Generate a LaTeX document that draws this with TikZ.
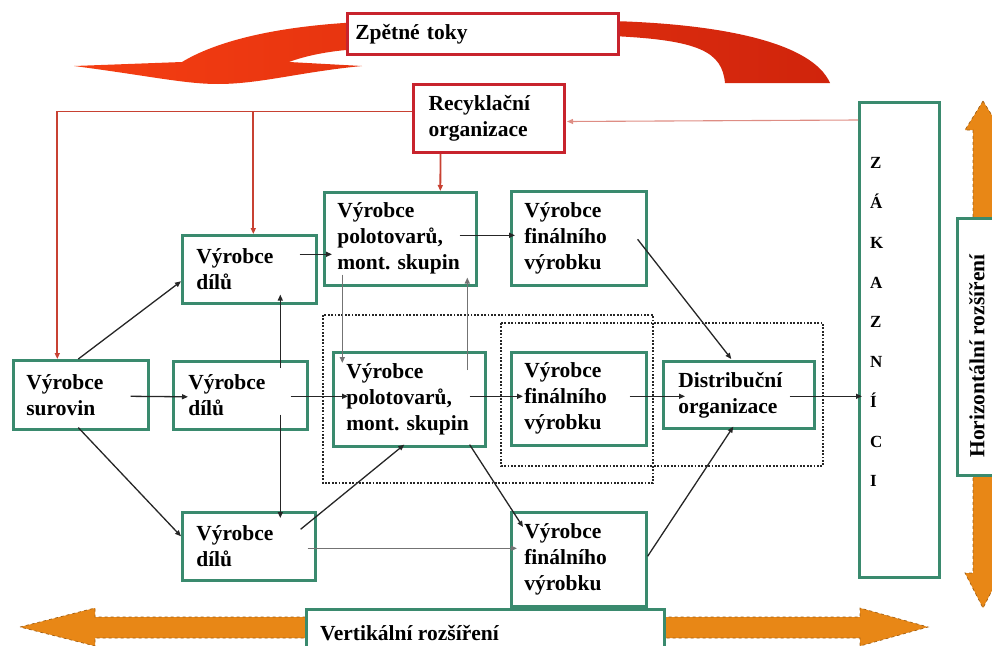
\documentclass[tikz,border=0pt]{standalone}
\usepackage{fontspec}
\setmainfont{Liberation Serif}
\usetikzlibrary{calc,arrows.meta}
\definecolor{gcol}{RGB}{58,138,110}
\definecolor{rline}{RGB}{200,65,50}
\definecolor{rbox}{RGB}{200,35,45}
\definecolor{ofill}{RGB}{232,135,22}
\definecolor{oedge}{RGB}{160,95,20}
\definecolor{rfillA}{RGB}{245,62,18}
\definecolor{rfillB}{RGB}{208,36,12}
\begin{document}
\begin{tikzpicture}[x=1pt,y=-1pt,
  lbl/.style={font={\fontsize{21.5}{26}\selectfont\bfseries}},
  gbox/.style={lbl, draw=gcol, line width=2.6pt, fill=white, anchor=north west, inner ysep=0pt, align=left},
  rbx/.style={lbl, draw=rbox, line width=3pt, fill=white, anchor=north west, inner ysep=0pt, align=left},
  con/.style={draw=black!85, line width=1.3pt, -{Triangle[length=6pt,width=5pt]}},
  lcon/.style={con, draw=black!55},
  rcon/.style={draw=rline, line width=1.8pt, -{Triangle[length=6pt,width=5pt]}},
  dotbox/.style={draw=black!85, line width=2.4pt, dash pattern=on 1.8pt off 1.6pt},
  oarrow/.style={fill=ofill, draw=oedge, dashed, line width=0.7pt},
]
\useasboundingbox (0,0) rectangle (992,645);
\clip (0,0) rectangle (992,645);

% big curved return-flow arrow
\shade[left color=rfillA, right color=rfillB]
  (830,83) .. controls (812,42) and (720,24) .. (612,21)
  -- (344,23) .. controls (270,28) and (215,42) .. (182,62)
  -- (74,66) .. controls (150,76) and (185,84) .. (218,84)
  .. controls (260,84) and (300,72) .. (362,66)
  -- (289,62) .. controls (305,56) and (325,52) .. (346,50)
  -- (612,36) .. controls (700,40) and (722,52) .. (725,83) -- cycle;
\node[rbx, line width=2.5pt, minimum width=271pt, minimum height=41pt, text width=255pt, inner xsep=8pt] (zt) at (346,12) {Zpětné toky};

% orange double arrows
\filldraw[oarrow] (20,627) -- (95,608) -- (95,617) -- (860,617) -- (860,608) -- (928,627)
  -- (860,646) -- (860,638) -- (95,638) -- (95,646) -- cycle;
\filldraw[oarrow] (983,101) -- (1001,130) -- (993,130) -- (993,573) -- (1001,573) -- (983,608)
  -- (965,573) -- (973,573) -- (973,130) -- (965,130) -- cycle;
\node[gbox, minimum width=358pt, minimum height=50pt] (vr) at (305,608) {};
\node[lbl, anchor=base west, inner sep=0pt] (vrt) at (320,640) {Vertikální rozšíření};
\node[gbox, minimum width=60pt, minimum height=257pt] (hr) at (956,217) {};
\node[lbl, rotate=90, inner sep=0pt] (hrt) at (977,356) {Horizontální rozšíření};

% dotted groupings
\draw[dotbox] (323,315) rectangle (653,483);
\draw[dotbox] (501,323) rectangle (823,466);

% boxes
\node[rbx, minimum width=151pt, minimum height=68pt, text width=121pt, inner xsep=15pt] (r) at (412,83) {Recyklační\\organizace};
\node[gbox, minimum width=135pt, minimum height=69pt, text width=109pt, inner xsep=13pt] (s) at (12,359) {Výrobce\\surovin};
\node[gbox, minimum width=134pt, minimum height=68pt, text width=106pt, inner xsep=14pt] (dt) at (181,234) {Výrobce\\dílů};
\node[gbox, minimum width=134pt, minimum height=68pt, text width=104pt, inner xsep=15pt] (dm) at (172,360) {Výrobce\\dílů};
\node[gbox, minimum width=133pt, minimum height=68pt, text width=105pt, inner xsep=14pt] (db) at (181,511) {Výrobce\\dílů};
\node[gbox, minimum width=152pt, minimum height=93pt, text width=126pt, inner xsep=13pt] (pt) at (323,191) {Výrobce\\polotovarů,\\mont.~skupin};
\node[gbox, minimum width=152pt, minimum height=94pt, text width=126pt, inner xsep=13pt] (pm) at (332,351) {Výrobce\\polotovarů,\\mont.~skupin};
\node[gbox, minimum width=135pt, minimum height=94pt, text width=109pt, inner xsep=13pt] (ft) at (510,190) {Výrobce\\finálního\\výrobku};
\node[gbox, minimum width=135pt, minimum height=93pt, text width=109pt, inner xsep=13pt] (fm) at (510,351) {Výrobce\\finálního\\výrobku};
\node[gbox, minimum width=135pt, minimum height=94pt, text width=109pt, inner xsep=13pt] (fb) at (510,511) {Výrobce\\finálního\\výrobku};
\node[gbox, minimum width=151pt, minimum height=67pt, text width=121pt, inner xsep=15pt] (d) at (662,360) {Distribuční\\organizace};
\node[gbox, minimum width=80pt, minimum height=475pt] (z) at (858,101) {};
\node[font={\fontsize{17}{39.75}\selectfont\bfseries}, anchor=north west, inner sep=0pt, align=left] (zl) at (870,157.5) {Z\\Á\\K\\A\\Z\\N\\Í\\C\\I};

% material flows
\draw[con] ($(s.east)+(-19,1.5)$) -- ($(dm.west)+(16,1.5)$);
\draw[con] ($(dm.east)+(-18,1)$) -- ($(pm.west)+(16,-3)$);
\draw[con] ($(pm.east)+(-17,-3)$) -- ($(fm.west)+(13,-2.5)$);
\draw[con] ($(fm.east)+(-18,-2.5)$) -- ($(d.west)+(23,1.5)$);
\draw[con] ($(d.east)+(-26,1.5)$) -- ($(d.east -| z.west)+(4,1.5)$);
\draw[con] ($(s.north)+(-2.5,0)$) -- ($(dt.west)+(0,12)$);
\draw[con] ($(s.south)+(-2.5,-3)$) -- ($(db.west)+(0,-10)$);
\draw[con] ($(dm.north)+(40,8)$) -- ($(dt.south)+(31,-10)$);
\draw[con] ($(dm.south)+(40,-16)$) -- ($(db.north)+(31.5,7)$);
\draw[con] ($(db.east)+(-16,-17)$) -- ($(pm.south)+(-5,-3)$);
\draw[lcon] ($(db.east)+(-9,2)$) -- ($(fb.west)+(7,-11)$);
\draw[con] ($(pm.south east)+(-17,-3)$) -- ($(fb.north west)+(13,16)$);
\draw[con] ($(fb.east)+(0,-3)$) -- ($(d.south)+(-5.5,-3)$);
\draw[con] ($(ft.east)+(-10,1)$) -- ($(d.north)+(-7.5,-1)$);
\draw[con] ($(dt.east)+(-18,-15)$) -- ($(pt.west)+(9,15.5)$);
\draw[con] ($(pt.east)+(-18,-3.5)$) -- ($(ft.west)+(5,-3)$);
\draw[lcon] ($(pt.south)+(-58,-12)$) -- ($(pm.north)+(-67,12)$);
\draw[lcon] ($(pm.north)+(58,19)$) -- ($(pt.south)+(67,-9)$);

% recycling flows
\coordinate (rl) at ($(r.west)+(0,-7)$);
\coordinate (bt) at ($(dt.north)+(4,0)$);
\draw[rcon] (rl) -| ($(s.north)+(-23.5,0)$);
\draw[rcon] (bt |- rl) -- (bt);
\draw[rcon] ($(r.south)+(-48.5,0)$) -- ($(pt.north)+(40,0)$);
\draw[rcon, draw=rline!60, line width=1.1pt] ($(z.north west)+(0,19)$) -- ($(r.east)+(1,3)$);
\end{tikzpicture}
\end{document}
